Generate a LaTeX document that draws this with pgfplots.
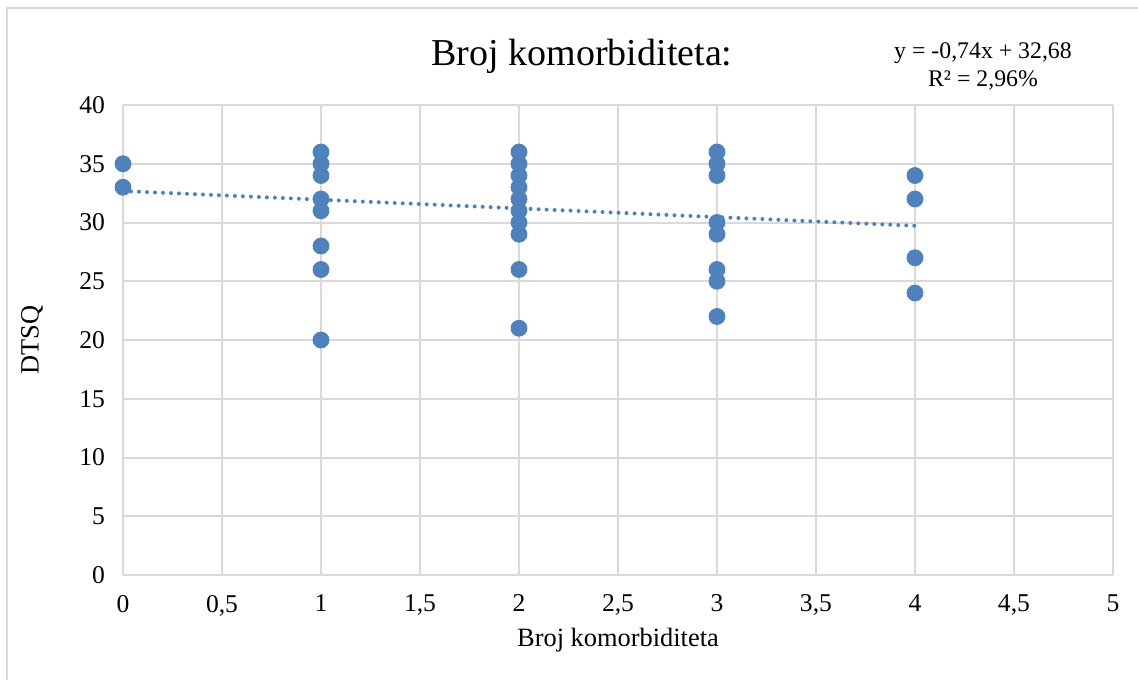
\documentclass[border=0pt]{standalone}
\usepackage{fontspec}
\setmainfont{Liberation Serif}
\usepackage{pgfplots}
\pgfplotsset{compat=1.18}
\definecolor{PtBlue}{HTML}{4F81BD}
\definecolor{GridGray}{HTML}{D9D9D9}

\begin{document}
\begin{tikzpicture}
  % picture is 1138x680 px at 0.5bp per px
  \useasboundingbox (0,0) rectangle (569bp,340bp);
  \clip (0,0) rectangle (569bp,340bp);
  \draw[GridGray, line width=1bp] (3.5bp,336bp) rectangle (580bp,-10bp);

  \begin{axis}[
    at={(61.5bp,52.5bp)}, anchor=south west,
    scale only axis,
    width=495bp, height=235bp,
    xmin=0, xmax=5, ymin=0, ymax=40,
    xtick={0,0.5,...,5},
    ytick={0,5,...,40},
    /pgf/number format/use comma,
    /pgf/number format/assume math mode=true,
    grid=major,
    major grid style={draw=GridGray, line width=1bp},
    axis line style={draw=GridGray, line width=1bp},
    axis x line=bottom, axis y line=left,
    x axis line style={-}, y axis line style={-},
    major tick length=0pt,
    tick label style={font=\fontsize{12.8bp}{15bp}\selectfont, text=black},
    yticklabel style={xshift=-5.5bp},
    xticklabel style={yshift=-6.5bp},
    xlabel={Broj komorbiditeta},
    ylabel={DTSQ},
    label style={font=\fontsize{13.2bp}{15bp}\selectfont},
    xlabel style={at={(axis description cs:0.5,-0.1383)}, anchor=center},
    ylabel style={at={(axis description cs:-0.0919,0.5)}, anchor=center},
    clip=false,
  ]
    % trendline y = -0.74x + 32.68
    \addplot[PtBlue, line width=2bp, line cap=round, dash pattern=on 0pt off 4bp]
      coordinates {(0,32.68) (4,29.72)};
    \addplot[only marks, mark=*, mark size=4bp, mark options={fill=PtBlue, draw=PtBlue}]
      coordinates {
        (0,35) (0,33)
        (1,36) (1,35) (1,34) (1,32) (1,31) (1,28) (1,26) (1,20)
        (2,36) (2,35) (2,34) (2,33) (2,32) (2,31) (2,30) (2,29) (2,26) (2,21)
        (3,36) (3,35) (3,34) (3,30) (3,29) (3,26) (3,25) (3,22)
        (4,34) (4,32) (4,27) (4,24)
      };
  \end{axis}

  \node[font=\fontsize{19bp}{22bp}\selectfont] at (291bp,312bp) {Broj komorbiditeta:};
  \node[font=\fontsize{11.9bp}{14bp}\selectfont, align=center] at (491.5bp,307bp)
    {y = -0,74x + 32,68\\R² = 2,96\%};
\end{tikzpicture}
\end{document}
